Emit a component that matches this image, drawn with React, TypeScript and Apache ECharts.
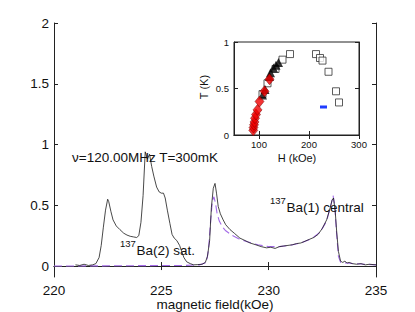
import React, { useEffect, useRef } from "react";
import * as echarts from "echarts";

// ---- main spectrum (measured) ----
const fieldH = [221.0, 221.2, 221.4, 221.6, 221.8, 221.95, 222.1, 222.2, 222.3, 222.4, 222.5, 222.55, 222.65, 222.75, 222.9, 223.07, 223.25, 223.4, 223.55, 223.7, 223.85, 223.95, 224.05, 224.15, 224.25, 224.35, 224.45, 224.55, 224.65, 224.78, 224.9, 225.0, 225.1, 225.18, 225.28, 225.4, 225.5, 225.6, 225.72, 225.85, 225.95, 226.05, 226.18, 226.35, 226.5, 226.7, 226.9, 227.05, 227.15, 227.25, 227.33, 227.42, 227.5, 227.57, 227.65, 227.75, 227.88, 228.0, 228.2, 228.4, 228.66, 228.9, 229.13, 229.4, 229.65, 229.9, 230.1, 230.3, 230.5, 230.7, 230.9, 231.1, 231.3, 231.5, 231.7, 231.9, 232.1, 232.3, 232.5, 232.7, 232.85, 232.95, 233.02, 233.1, 233.17, 233.25, 233.35, 233.45, 233.55, 233.65, 233.75, 233.9, 234.1, 234.3, 234.5, 234.7, 235.0];
const spectrum = [0.01, 0.005, 0.015, 0.005, 0.01, 0.02, 0.07, 0.17, 0.32, 0.46, 0.55, 0.53, 0.45, 0.38, 0.33, 0.30, 0.27, 0.255, 0.245, 0.24, 0.235, 0.25, 0.36, 0.58, 0.94, 0.88, 0.92, 0.82, 0.74, 0.65, 0.61, 0.60, 0.60, 0.56, 0.46, 0.35, 0.26, 0.23, 0.21, 0.17, 0.12, 0.07, 0.035, 0.02, 0.01, 0.012, 0.015, 0.03, 0.08, 0.21, 0.48, 0.64, 0.68, 0.60, 0.49, 0.43, 0.38, 0.34, 0.30, 0.27, 0.23, 0.21, 0.19, 0.175, 0.16, 0.15, 0.155, 0.145, 0.16, 0.165, 0.17, 0.175, 0.185, 0.19, 0.205, 0.22, 0.235, 0.26, 0.31, 0.38, 0.47, 0.54, 0.56, 0.45, 0.28, 0.12, 0.04, 0.03, 0.04, 0.025, 0.03, 0.02, 0.015, 0.02, 0.01, 0.015, 0.01];

// ---- simulated central line (dashed) ----
const fitH = [220.0, 226.0, 226.8, 227.1, 227.2, 227.3, 227.38, 227.45, 227.52, 227.6, 227.7, 227.85, 228.0, 228.27, 228.6, 229.0, 229.5, 230.0, 230.5, 231.0, 231.5, 232.0, 232.4, 232.7, 232.9, 233.0, 233.08, 233.15, 233.25, 233.35, 233.6, 234.0, 234.5, 235.0];
const fitValue = [0.0, 0.005, 0.01, 0.03, 0.14, 0.38, 0.54, 0.57, 0.52, 0.43, 0.37, 0.32, 0.29, 0.255, 0.225, 0.2, 0.175, 0.16, 0.16, 0.17, 0.19, 0.225, 0.28, 0.37, 0.5, 0.58, 0.5, 0.3, 0.08, 0.03, 0.025, 0.02, 0.015, 0.01];

const mainXTicks = [220, 225, 230, 235];
const mainYTicks = [0, 0.5, 1, 1.5, 2];

// ---- inset phase diagram ----
const openSqH = [162, 214, 222, 227, 239, 254, 260, 147, 133, 117, 107];
const openSqT = [0.87, 0.87, 0.828, 0.8, 0.68, 0.47, 0.35, 0.81, 0.71, 0.556, 0.44];
const blackH = [139, 134, 129, 123, 121, 112, 107];
const blackT = [0.78, 0.75, 0.72, 0.67, 0.63, 0.49, 0.43];
const redH = [88.5, 89, 90, 91, 92, 94, 97, 101, 111, 121];
const redT = [0.05, 0.08, 0.11, 0.14, 0.18, 0.22, 0.27, 0.36, 0.47, 0.6];
const blueH = [222, 236];
const blueT = [0.3, 0.3];
const insetXTicks = [100, 200, 300];
const insetYTicks = [0, 0.5, 1];

const FONT = "'Liberation Sans', Arial, Helvetica, sans-serif";
const zip = (a: number[], b: number[]) => a.map((v, i) => [v, b[i]]);

export default function App() {
  const ref = useRef<HTMLDivElement>(null);
  useEffect(() => {
    if (!ref.current) return;
    const chart = echarts.init(ref.current, undefined, { renderer: "svg" });
    const axisLine = { show: true, lineStyle: { color: "#222", width: 1 } };
    const tick = (vals: number[]) => ({ show: true, inside: true, length: 4, lineStyle: { color: "#222" }, customValues: vals });
    const mainLabel = { fontSize: 13.5, fontFamily: FONT, color: "#111" };
    const insetLabel = { fontSize: 9.5, fontFamily: FONT, color: "#111" };
    chart.setOption({
      animation: false,
      backgroundColor: "#fff",
      grid: [
        { left: 54, top: 23, width: 322, height: 254, show: false },
        { left: 234, top: 42, width: 125, height: 93, show: true, backgroundColor: "#fff", borderColor: "#222", borderWidth: 1, z: 5 },
      ],
      xAxis: [
        { type: "value", gridIndex: 0, min: 220, max: 235, position: "bottom", axisLine, axisTick: tick(mainXTicks), axisLabel: { ...mainLabel, margin: 6, customValues: mainXTicks }, splitLine: { show: false } },
        { type: "value", gridIndex: 0, min: 220, max: 235, position: "top", axisLine, axisTick: tick(mainXTicks), axisLabel: { show: false }, splitLine: { show: false } },
        { type: "value", gridIndex: 1, min: 50, max: 300, position: "bottom", axisLine, axisTick: tick(insetXTicks), axisLabel: { ...insetLabel, margin: 4, customValues: insetXTicks }, splitLine: { show: false }, z: 6 },
        { type: "value", gridIndex: 1, min: 50, max: 300, position: "top", axisLine, axisTick: tick(insetXTicks), axisLabel: { show: false }, splitLine: { show: false }, z: 6 },
      ],
      yAxis: [
        { type: "value", gridIndex: 0, min: -0.09, max: 2, position: "left", axisLine, axisTick: tick(mainYTicks), axisLabel: { ...mainLabel, margin: 5, customValues: mainYTicks }, splitLine: { show: false } },
        { type: "value", gridIndex: 0, min: -0.09, max: 2, position: "right", axisLine, axisTick: tick(mainYTicks), axisLabel: { show: false }, splitLine: { show: false } },
        { type: "value", gridIndex: 1, min: 0, max: 1, position: "left", axisLine, axisTick: tick(insetYTicks), axisLabel: { ...insetLabel, margin: 5, customValues: insetYTicks }, splitLine: { show: false }, z: 6 },
        { type: "value", gridIndex: 1, min: 0, max: 1, position: "right", axisLine, axisTick: tick(insetYTicks), axisLabel: { show: false }, splitLine: { show: false }, z: 6 },
      ],
      series: [
        { type: "line", xAxisIndex: 0, yAxisIndex: 0, data: zip(fitH, fitValue), symbol: "none", lineStyle: { color: "#a46be8", width: 1.1, type: [8, 4] }, z: 2 },
        { type: "line", xAxisIndex: 0, yAxisIndex: 0, data: zip(fieldH, spectrum), symbol: "none", lineStyle: { color: "#1a1a1a", width: 0.8 }, z: 3 },
        { type: "scatter", xAxisIndex: 2, yAxisIndex: 2, data: zip(openSqH, openSqT), symbol: "rect", symbolSize: 7, itemStyle: { color: "#fff", borderColor: "#333", borderWidth: 1 }, z: 10 },
        { type: "scatter", xAxisIndex: 2, yAxisIndex: 2, data: zip(blackH, blackT), symbol: "triangle", symbolSize: 9, itemStyle: { color: "#000" }, z: 11 },
        { type: "scatter", xAxisIndex: 2, yAxisIndex: 2, data: zip(redH, redT), symbol: "diamond", symbolSize: [9, 11], itemStyle: { color: "#f00000", borderColor: "#700", borderWidth: 0.6 }, z: 12 },
        { type: "line", xAxisIndex: 2, yAxisIndex: 2, data: zip(blueH, blueT), symbol: "none", lineStyle: { color: "#1f3cff", width: 3 }, z: 12 },
      ],
      graphic: [
        { type: "text", x: 72, y: 157, style: { text: "ν=120.00MHz T=300mK", fontSize: 13.5, fontFamily: FONT, fill: "#111", align: "left", verticalAlign: "middle" }, z: 20 },
        { type: "text", x: 120, y: 243.5, style: { text: "137", fontSize: 9.5, fontFamily: FONT, fill: "#111", align: "left", verticalAlign: "middle" }, z: 20 },
        { type: "text", x: 136.5, y: 250, style: { text: "Ba(2) sat.", fontSize: 13.5, fontFamily: FONT, fill: "#111", align: "left", verticalAlign: "middle" }, z: 20 },
        { type: "text", x: 270, y: 200.5, style: { text: "137", fontSize: 9.5, fontFamily: FONT, fill: "#111", align: "left", verticalAlign: "middle" }, z: 20 },
        { type: "text", x: 286.5, y: 207.3, style: { text: "Ba(1) central", fontSize: 13.5, fontFamily: FONT, fill: "#111", align: "left", verticalAlign: "middle" }, z: 20 },
        { type: "text", x: 215, y: 304, style: { text: "magnetic field(kOe)", fontSize: 13.5, fontFamily: FONT, fill: "#111", align: "center", verticalAlign: "middle" }, z: 20 },
        { type: "text", x: 297, y: 158, style: { text: "H (kOe)", fontSize: 11, fontFamily: FONT, fill: "#111", align: "center", verticalAlign: "middle" }, z: 20 },
        { type: "text", x: 204, y: 87, rotation: Math.PI / 2, style: { text: "T (K)", fontSize: 11, fontFamily: FONT, fill: "#111", align: "center", verticalAlign: "middle" }, z: 20 },
      ],
    });
    return () => chart.dispose();
  }, []);
  return <div ref={ref} style={{ position: "fixed", left: 0, top: 0, width: 415, height: 312, background: "#fff" }} />;
}
